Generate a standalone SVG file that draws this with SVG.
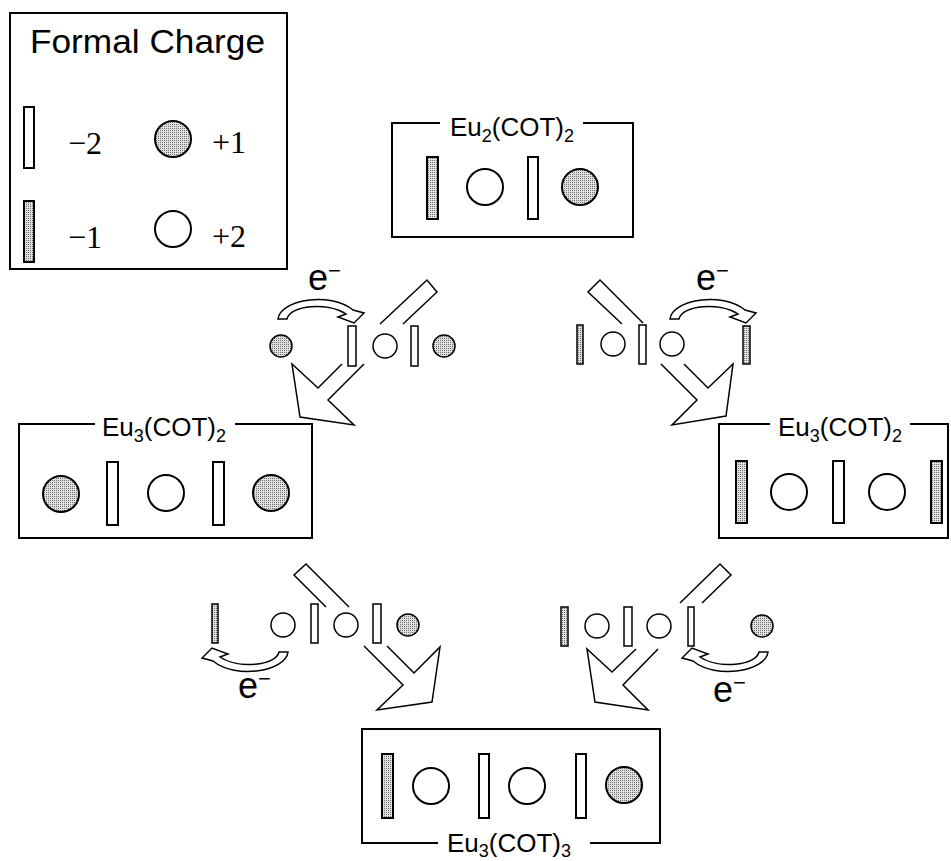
<svg xmlns="http://www.w3.org/2000/svg" xmlns:xlink="http://www.w3.org/1999/xlink" width="951" height="861" viewBox="0 0 951 861">
<defs>
<pattern id="dots" width="2" height="2" patternUnits="userSpaceOnUse">
<rect width="2" height="2" fill="#e0e0e0"/>
<rect width="1" height="1" fill="#707070"/>
</pattern>
<path id="curl" d="M -42 7 C -40 -12 10 -21 33 -2 L 44 1 L 34 11 L 18 5 L 26 2 C 8 -10 -30 -7 -33 7 Z"/>
</defs>
<style>
.box{fill:none;stroke:#000;stroke-width:2}
.o{fill:#fff;stroke:#000;stroke-width:2}
.s{fill:url(#dots);stroke:#000;stroke-width:2}
.os{fill:#fff;stroke:#000;stroke-width:1.5}
.ss{fill:url(#dots);stroke:#000;stroke-width:1.5}
.arr{fill:none;stroke:#000;stroke-width:1.5;stroke-linejoin:miter}
.curl{fill:#fff;stroke:#000;stroke-width:1.5}
.sans{font-family:"Liberation Sans",Arial,sans-serif;fill:#000}
.serif{font-family:"Liberation Serif","Times New Roman",serif;fill:#000;font-size:32px}
.title{font-size:26px}
.sub{font-size:18px}
.e{font-size:36px}
.sup{font-size:22px}
</style>
<rect width="951" height="861" fill="#fff"/>

<g id="legend">
<rect x="10" y="13" width="277" height="256" class="box"/>
<text x="30" y="53" class="sans" font-size="33" textLength="235" lengthAdjust="spacingAndGlyphs">Formal Charge</text>
<rect x="24" y="107" width="10" height="61" class="o"/>
<text x="68" y="154" class="serif">−2</text>
<circle cx="173" cy="139" r="18" class="s"/>
<text x="212" y="153" class="serif">+1</text>
<rect x="24" y="201" width="10" height="61" class="s"/>
<text x="68" y="248" class="serif">−1</text>
<circle cx="173" cy="229" r="18" class="o"/>
<text x="212" y="247" class="serif">+2</text>
</g>

<g id="eu2cot2">
<path d="M 583 123 H 633 V 237 H 392 V 123 H 440" class="box"/>
<text x="450" y="136" class="sans title">Eu<tspan class="sub" dy="6">2</tspan><tspan dy="-6">(COT)</tspan><tspan class="sub" dy="6">2</tspan></text>
<rect x="427" y="157" width="11" height="62" class="s"/>
<circle cx="485" cy="187" r="18" class="o"/>
<rect x="528" y="157" width="10" height="62" class="o"/>
<circle cx="580" cy="187" r="18" class="s"/>
</g>

<g id="eu3cot2-left">
<path d="M 235 424 H 312 V 538 H 19 V 424 H 95" class="box"/>
<text x="102" y="436" class="sans title">Eu<tspan class="sub" dy="6">3</tspan><tspan dy="-6">(COT)</tspan><tspan class="sub" dy="6">2</tspan></text>
<circle cx="61" cy="494" r="18" class="s"/>
<rect x="107" y="462" width="11" height="63" class="o"/>
<circle cx="166" cy="493" r="18" class="o"/>
<rect x="213" y="462" width="11" height="63" class="o"/>
<circle cx="271" cy="493" r="18" class="s"/>
</g>

<g id="eu3cot2-right">
<path d="M 910 424 H 948 V 538 H 719 V 424 H 770" class="box"/>
<text x="778" y="436" class="sans title">Eu<tspan class="sub" dy="6">3</tspan><tspan dy="-6">(COT)</tspan><tspan class="sub" dy="6">2</tspan></text>
<rect x="736" y="461" width="11" height="62" class="s"/>
<circle cx="789" cy="492" r="18" class="o"/>
<rect x="833" y="461" width="11" height="62" class="o"/>
<circle cx="887" cy="492" r="18" class="o"/>
<rect x="931" y="461" width="11" height="62" class="s"/>
</g>

<g id="eu3cot3">
<path d="M 438 843 H 362 V 729 H 660 V 843 H 590" class="box"/>
<text x="447" y="852" class="sans title">Eu<tspan class="sub" dy="5">3</tspan><tspan dy="-5">(COT)</tspan><tspan class="sub" dy="5">3</tspan></text>
<rect x="382" y="754" width="11" height="64" class="s"/>
<circle cx="431" cy="786" r="18" class="o"/>
<rect x="479" y="754" width="10" height="64" class="o"/>
<circle cx="527" cy="786" r="18" class="o"/>
<rect x="576" y="754" width="10" height="64" class="o"/>
<circle cx="624" cy="785" r="18" class="s"/>
</g>

<g id="step-top-left">
<circle cx="281" cy="346" r="11" class="ss"/>
<rect x="348" y="326" width="8" height="40" class="os"/>
<circle cx="385" cy="346" r="12" class="os"/>
<rect x="411" y="326" width="7" height="40" class="os"/>
<circle cx="444" cy="346" r="11" class="ss"/>
<text x="308" y="290" class="sans e">e<tspan class="sup" dy="-12">−</tspan></text>
</g>

<g id="step-top-right">
<rect x="577" y="325" width="6" height="39" class="ss"/>
<circle cx="613" cy="344" r="12" class="os"/>
<rect x="639" y="325" width="7" height="39" class="os"/>
<circle cx="672" cy="344" r="12" class="os"/>
<rect x="743" y="326" width="7" height="38" class="ss"/>
<text x="696" y="290" class="sans e">e<tspan class="sup" dy="-12">−</tspan></text>
</g>

<g id="step-bottom-left">
<rect x="212" y="604" width="6" height="39" class="ss"/>
<circle cx="283" cy="625" r="12" class="os"/>
<rect x="311" y="604" width="7" height="39" class="os"/>
<circle cx="346" cy="625" r="12" class="os"/>
<rect x="373" y="604" width="8" height="39" class="os"/>
<circle cx="408" cy="625" r="11" class="ss"/>
<text x="238" y="698" class="sans e">e<tspan class="sup" dy="-12">−</tspan></text>
</g>

<g id="step-bottom-right">
<rect x="561" y="607" width="7" height="39" class="ss"/>
<circle cx="597" cy="626" r="12" class="os"/>
<rect x="624" y="607" width="8" height="39" class="os"/>
<circle cx="659" cy="626" r="12" class="os"/>
<rect x="688" y="607" width="6" height="39" class="os"/>
<circle cx="762" cy="626" r="11" class="ss"/>
<text x="713" y="702" class="sans e">e<tspan class="sup" dy="-12">−</tspan></text>
</g>

<g id="connectors">
<polyline points="380,324 427,280 437,292 403,324" class="arr"/>
<polyline points="342,364 318,388 292,364 300,417 354,425 328,400 364,364" class="arr"/>
<polyline points="622,324 588,292 600,280 643,323" class="arr"/>
<polyline points="661,364 697,400 672,425 726,416 733,364 708,388 684,364" class="arr"/>
<polyline points="326,607 294,575 306,564 349,607" class="arr"/>
<polyline points="364,646 403,685 377,710 432,702 440,647 414,673 387,646" class="arr"/>
<polyline points="680,603 720,564 731,575 702,603" class="arr"/>
<polyline points="658,649 623,685 648,710 595,702 587,649 612,672 636,649" class="arr"/>
<use xlink:href="#curl" class="curl" transform="translate(320,312)"/>
<use xlink:href="#curl" class="curl" transform="translate(712,312)"/>
<use xlink:href="#curl" class="curl" transform="translate(246,659) rotate(180)"/>
<use xlink:href="#curl" class="curl" transform="translate(726,659) rotate(180)"/>
</g>
</svg>
